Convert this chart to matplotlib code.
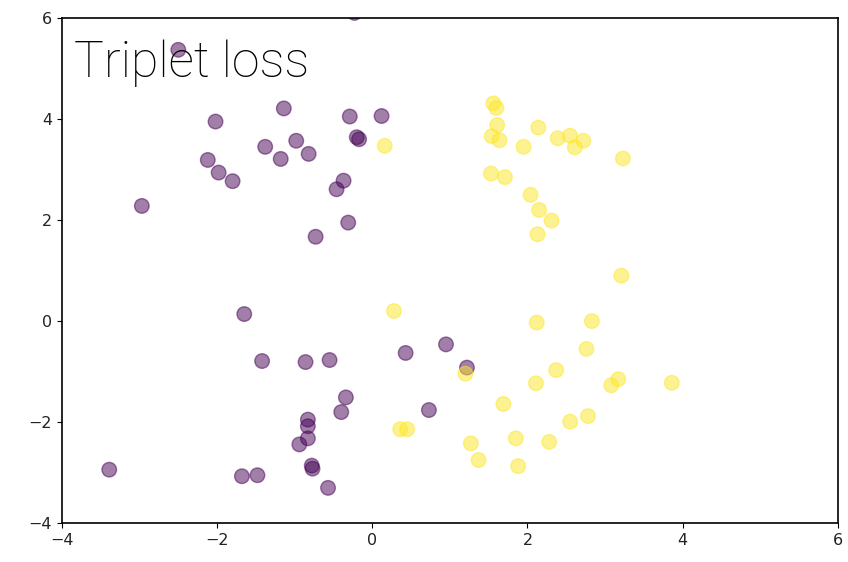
import matplotlib.pyplot as plt
import numpy as np

# embedding coordinates, class 0 (anchor people) and class 1
x0 = [-0.23, -2.50, -1.14, -2.02, -0.29, 0.12, -0.20, -0.17, -0.98, -1.38,
      -0.82, -1.18, -2.12, -1.98, -1.80, -0.37, -0.46, -2.97, -0.31, -0.73,
      -1.65, -1.42, -0.86, -0.55, -0.34, -0.40, -0.83, -0.83, -0.83, -0.94,
      -0.78, -0.77, -3.39, -1.68, -1.48, -0.57,
      0.43, 0.95, 1.22, 0.73]
y0 = [6.10, 5.37, 4.21, 3.95, 4.05, 4.06, 3.64, 3.60, 3.57, 3.45,
      3.31, 3.21, 3.19, 2.94, 2.77, 2.78, 2.61, 2.28, 1.95, 1.67,
      0.14, -0.79, -0.81, -0.77, -1.51, -1.80, -1.95, -2.08, -2.32, -2.44,
      -2.86, -2.92, -2.94, -3.07, -3.05, -3.30,
      -0.63, -0.46, -0.92, -1.76]

x1 = [0.16, 1.56, 1.60, 1.61, 1.54, 1.64, 2.14, 1.95, 2.39, 2.55,
      2.61, 2.72, 3.23, 1.53, 1.71, 2.04, 2.15, 2.31, 2.13, 3.21,
      0.28, 1.20, 2.12, 2.83, 2.76, 2.37, 2.11, 3.17, 3.08, 3.86,
      1.69, 2.55, 2.78, 0.36, 0.45, 1.27, 1.85, 2.28, 1.37, 1.88]
y1 = [3.47, 4.31, 4.22, 3.88, 3.66, 3.58, 3.83, 3.45, 3.62, 3.67,
      3.44, 3.57, 3.22, 2.92, 2.85, 2.50, 2.20, 1.99, 1.72, 0.90,
      0.20, -1.04, -0.03, 0.00, -0.55, -0.97, -1.23, -1.15, -1.27, -1.22,
      -1.64, -1.99, -1.88, -2.14, -2.14, -2.42, -2.32, -2.39, -2.75, -2.87]

xs = np.array(x0 + x1)
ys = np.array(y0 + y1)
labels = np.array([0] * len(x0) + [1] * len(x1))

fig = plt.figure(figsize=(8.48, 5.62), dpi=100)
ax = fig.add_axes([0.073, 0.069, 0.915, 0.899])
ax.scatter(xs, ys, c=labels, cmap='viridis', alpha=0.5, s=110)
ax.set_xlim(-4, 6)
ax.set_ylim(-4, 6)
ax.tick_params(labelsize=11.5, labelcolor='#222222')
for s in ax.spines.values():
    s.set_linewidth(1.2)

ax.text(0.016, 0.958, 'Triplet loss', transform=ax.transAxes, va='top', ha='left',
        fontsize=36, family='Roboto', fontweight='light', color='black')

fig.savefig('out.png')
